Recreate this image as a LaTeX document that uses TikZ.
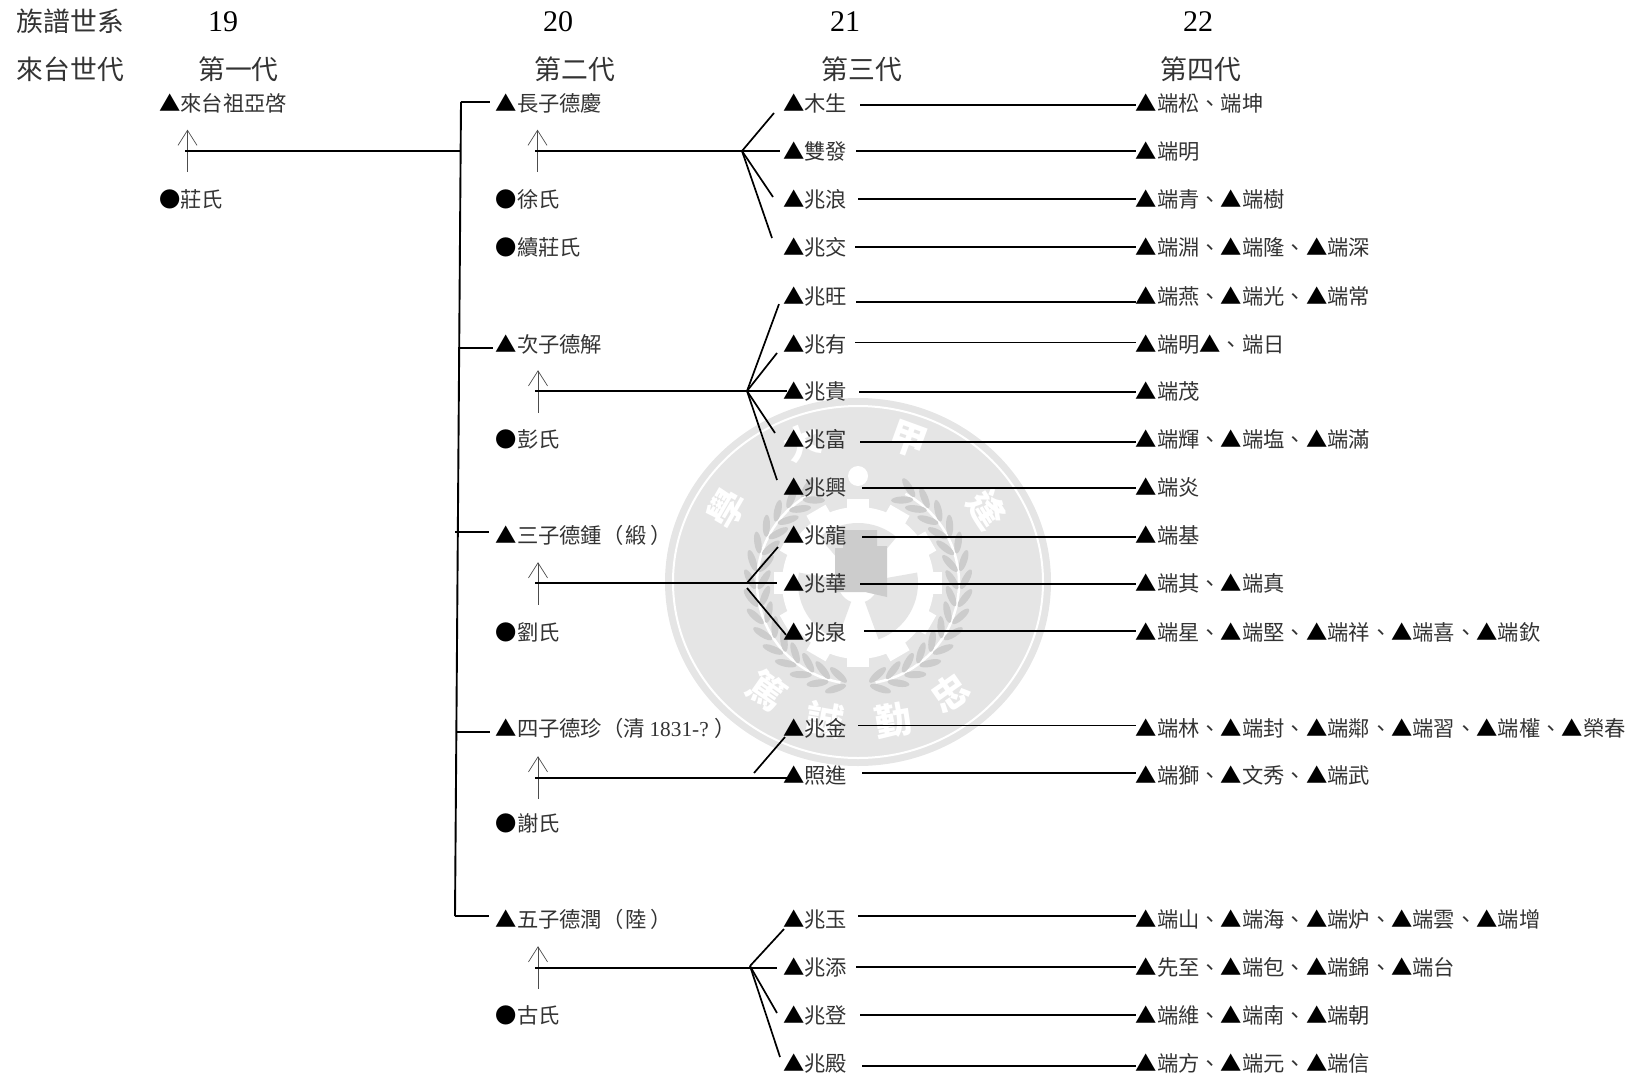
\documentclass[tikz,border=0pt]{standalone}
\usepackage{fontspec}
\setmainfont{Noto Sans CJK TC}
\newfontfamily\latinfont{Liberation Serif}
\usetikzlibrary{arrows.meta}
\newcommand{\boy}{\textcolor{black}{▲}}
\newcommand{\girl}{\textcolor{black}{●}}
\tikzset{
		person/.style={anchor=west,inner sep=0pt,text height=19pt,text depth=2pt,font=\fontsize{21.3}{24}\selectfont,text=black!80},
		title/.style={inner sep=0pt,font=\fontsize{26.8}{30}\selectfont,text=black!80},
		number/.style={inner sep=0pt,font=\fontsize{30}{32}\latinfont\selectfont},
		sealtext/.style={inner sep=0pt,text=white,font=\fontsize{37}{39}\selectfont\bfseries},
		sealleaf/.style={fill=black!20},
		link/.style={line width=1.9pt},
		branch/.style={line width=1.7pt},
		marry/.style={line width=0.7pt,draw=black!70,-{Straight Barb[length=15pt,width=19pt,line width=0.7pt]}}
	}

\begin{document}
\begin{tikzpicture}[x=1pt,y=-1pt]
				\useasboundingbox (0,0) rectangle (1632,1076);

				\fill[black!10] (858,582) ellipse [x radius=193pt,y radius=184pt];
				\draw[white,line width=2pt] (858,582) ellipse [x radius=185pt,y radius=176pt];
				\node[sealtext,rotate=60]  (s1) at (727,508) {學};
				\node[sealtext,rotate=22]  (s2) at (802,442) {大};
				\node[sealtext,rotate=-20] (s3) at (908,440) {甲};
				\node[sealtext,rotate=-58] (s4) at (987,510) {逢};
				\node[sealtext,rotate=-35] (s5) at (767,690) {篤};
				\node[sealtext,rotate=-10] (s6) at (825,720) {誠};
				\node[sealtext,rotate=10]  (s7) at (893,720) {勤};
				\node[sealtext,rotate=35]  (s8) at (950,693) {忠};

				\begin{scope}[shift={(858,583)}]
					\draw[white,line width=2.5pt] (-80:101pt) arc [start angle=-80,end angle=62,radius=101pt];
					\draw[white,line width=2.5pt] (260:101pt) arc [start angle=260,end angle=118,radius=101pt];
					\foreach \a in {-78,-68,...,62} {
						\begin{scope}[rotate=\a]
							\fill[sealleaf,rotate around={60:(108,0)}] (108,0) ellipse [x radius=11pt,y radius=3.6pt];
							\fill[sealleaf,rotate around={120:(94,0)}] (94,0) ellipse [x radius=11pt,y radius=3.6pt];
						\end{scope}
					}
					\foreach \a in {258,248,...,118} {
						\begin{scope}[rotate=\a]
							\fill[sealleaf,rotate around={120:(108,0)}] (108,0) ellipse [x radius=11pt,y radius=3.6pt];
							\fill[sealleaf,rotate around={60:(94,0)}] (94,0) ellipse [x radius=11pt,y radius=3.6pt];
						\end{scope}
					}
					\fill[white] (0,0) circle [radius=76pt];
					\foreach \a in {0,30,...,330} {
						\fill[white,rotate=\a] (70,-11) rectangle (84,11);
					}
					\foreach \a in {50,170,290} {
						\fill[black!10,rotate=\a] (20pt,0pt) arc [start angle=0,end angle=80,radius=20pt] -- (80:60pt) arc [start angle=80,end angle=0,radius=60pt] -- cycle;
					}
					\fill[white] (0,-107) circle [radius=10pt];
				\end{scope}
				\fill[black!20] (835,548) -- (843,548) -- (843,530) -- (877,530) -- (877,546) -- (887,546) -- (887,597) -- (865,592) -- (835,592) -- cycle;

				\node[title,anchor=west] (h1) at (16.5,21) {族譜世系};
				\node[title,anchor=west] (h2) at (16.5,69) {來台世代};
				\node[number] (g19) at (223,21.5) {19};
				\node[number] (g20) at (558,21.5) {20};
				\node[number] (g21) at (845,21.5) {21};
				\node[number] (g22) at (1198,21.5) {22};
				\node[title] (c1) at (238.5,69) {第一代};
				\node[title] (c2) at (575,69) {第二代};
				\node[title] (c3) at (862,69) {第三代};
				\node[title] (c4) at (1201,69) {第四代};

				\node[person] (p0) at (159,103) {\boy 來台祖亞啓};
				\node[person] (w0) at (159,199) {\girl 莊氏};
				\node[person] (p1) at (495.5,103) {\boy 長子德慶};
				\node[person] (w1) at (495.5,199) {\girl 徐氏};
				\node[person] (w1b) at (495.5,247) {\girl 續莊氏};
				\node[person] (p2) at (495.5,343.5) {\boy 次子德解};
				\node[person] (w2) at (495.5,439) {\girl 彭氏};
				\node[person] (p3) at (495.5,535) {\boy 三子德鍾（\kern2pt 緞\kern4pt ）};
				\node[person] (w3) at (495.5,631.8) {\girl 劉氏};
				\node[person] (p4) at (495.5,727.5) {\boy 四子德珍（清 {\latinfont 1831-?}\kern6pt ）};
				\node[person] (w4) at (495.5,823) {\girl 謝氏};
				\node[person] (p5) at (495.5,919) {\boy 五子德潤（\kern2pt 陸\kern4pt ）};
				\node[person] (w5) at (495.5,1015) {\girl 古氏};

				\node[person] (m1) at (783,103) {\boy 木生};
				\node[person] (m2) at (783,151) {\boy 雙發};
				\node[person] (m3) at (783,199) {\boy 兆浪};
				\node[person] (m4) at (783,247) {\boy 兆交};
				\node[person] (m5) at (783,295.6) {\boy 兆旺};
				\node[person] (m6) at (783,343.5) {\boy 兆有};
				\node[person] (m7) at (783,391) {\boy 兆貴};
				\node[person] (m8) at (783,439) {\boy 兆富};
				\node[person] (m9) at (783,487) {\boy 兆興};
				\node[person] (m10) at (783,535) {\boy 兆龍};
				\node[person] (m11) at (783,583) {\boy 兆華};
				\node[person] (m12) at (783,631.8) {\boy 兆泉};
				\node[person] (m13) at (783,727.5) {\boy 兆金};
				\node[person] (m14) at (783,775) {\boy 照進};
				\node[person] (m15) at (783,919) {\boy 兆玉};
				\node[person] (m16) at (783,967) {\boy 兆添};
				\node[person] (m17) at (783,1015) {\boy 兆登};
				\node[person] (m18) at (783,1063) {\boy 兆殿};

				\node[person] (n1) at (1135.5,103) {\boy 端松、端坤};
				\node[person] (n2) at (1135.5,151) {\boy 端明};
				\node[person] (n3) at (1135.5,199) {\boy 端青、\boy 端樹};
				\node[person] (n4) at (1135.5,247) {\boy 端淵、\boy 端隆、\boy 端深};
				\node[person] (n5) at (1135.5,295.6) {\boy 端燕、\boy 端光、\boy 端常};
				\node[person] (n6) at (1135.5,343.5) {\boy 端明\boy 、端日};
				\node[person] (n7) at (1135.5,391) {\boy 端茂};
				\node[person] (n8) at (1135.5,439) {\boy 端輝、\boy 端塩、\boy 端滿};
				\node[person] (n9) at (1135.5,487) {\boy 端炎};
				\node[person] (n10) at (1135.5,535) {\boy 端基};
				\node[person] (n11) at (1135.5,583) {\boy 端其、\boy 端真};
				\node[person] (n12) at (1135.5,631.8) {\boy 端星、\boy 端堅、\boy 端祥、\boy 端喜、\boy 端欽};
				\node[person] (n13) at (1135.5,727.5) {\boy 端林、\boy 端封、\boy 端鄰、\boy 端習、\boy 端權、\boy 榮春};
				\node[person] (n14) at (1135.5,775) {\boy 端獅、\boy 文秀、\boy 端武};
				\node[person] (n15) at (1135.5,919) {\boy 端山、\boy 端海、\boy 端炉、\boy 端雲、\boy 端增};
				\node[person] (n16) at (1135.5,967) {\boy 先至、\boy 端包、\boy 端錦、\boy 端台};
				\node[person] (n17) at (1135.5,1015) {\boy 端維、\boy 端南、\boy 端朝};
				\node[person] (n18) at (1135.5,1063) {\boy 端方、\boy 端元、\boy 端信};

				\draw[marry] ([shift={(28.5,-16.5)}]w0.north west) -- ([shift={(28.5,16)}]p0.south west);
				\draw[marry] ([shift={(42,-16.5)}]w1.north west) -- ([shift={(42,16)}]p1.south west);
				\draw[marry] ([shift={(42.5,-15.5)}]w2.north west) -- ([shift={(42.5,16)}]p2.south west);
				\draw[marry] ([shift={(42.5,-16.3)}]w3.north west) -- ([shift={(42.5,16.5)}]p3.south west);
				\draw[marry] ([shift={(42.5,-13.5)}]w4.north west) -- ([shift={(42.5,18)}]p4.south west);
				\draw[marry] ([shift={(42.5,-15.5)}]w5.north west) -- ([shift={(42.5,16.5)}]p5.south west);

				\coordinate (t1) at (461,102);
				\coordinate (t2) at (459.5,348);
				\coordinate (t3) at (455,532);
				\coordinate (t4) at (457,732);
				\coordinate (t5) at (455,916);
				\coordinate (t0) at (460,151);
				\coordinate (a0) at (185,151);
				\coordinate (a1) at (535,151);
				\coordinate (a2) at (535,391);
				\coordinate (a3) at (535,583);
				\coordinate (a4) at (535,778);
				\coordinate (a5) at (535,968);
				\coordinate (j1) at (742,151);
				\coordinate (j2) at (747,391);
				\coordinate (j3) at (747,583);
				\coordinate (j3b) at (747,588);
				\coordinate (j4) at (754,773);
				\coordinate (j5) at (750,966);

				\draw[link] (t1) -- (t5);
				\path[branch] (t1) edge ([shift={(-6,-1)}]p1.west);
				\path[branch] (t2) edge ([shift={(-3,4.5)}]p2.west);
				\path[branch] (t3) edge ([shift={(-7,-3)}]p3.west);
				\path[branch] (t4) edge ([shift={(-5.5,4.5)}]p4.west);
				\path[branch] (t5) edge ([shift={(-6.5,-3)}]p5.west);
				\path[link] (a0) edge (t0);

				\path[link] (a1) edge (j1);
				\path[branch] (j1) edge ([shift={(-9,10)}]m1.west);
				\path[branch] (j1) edge ([shift={(-3,0)}]m2.west);
				\path[branch] (j1) edge ([shift={(-10,-2)}]m3.west);
				\path[branch] (j1) edge ([shift={(-11,-9)}]m4.west);

				\path[link] (a2) edge (j2);
				\path[link] (j2) edge ([shift={(4,0)}]m7.west);
				\path[branch] (j2) edge ([shift={(-4,8.5)}]m5.west);
				\path[branch] (j2) edge ([shift={(-6,9.5)}]m6.west);
				\path[branch] (j2) edge ([shift={(-8,-6)}]m8.west);
				\path[branch] (j2) edge ([shift={(-6,-7)}]m9.west);

				\path[link] (a3) edge ([shift={(-6,0)}]m11.west);
				\path[branch] (j3) edge ([shift={(-5,12)}]m10.west);
				\path[branch] (j3b) edge ([shift={(3,3)}]m12.west);

				\path[link] (a4) edge ([shift={(5,3)}]m14.west);
				\path[branch] (j4) edge ([shift={(2,9.5)}]m13.west);

				\path[link] (a5) edge ([shift={(-6,1)}]m16.west);
				\path[branch] (j5) edge ([shift={(1,10)}]m15.west);
				\path[branch] (j5) edge ([shift={(-6,-2)}]m17.west);
				\path[branch] (j5) edge ([shift={(-3,-6)}]m18.west);

				\path[link] ([shift={(13,2)}]m1.east) edge ([shift={(0,2)}]n1.west);
				\path[link] ([shift={(9,0)}]m2.east) edge (n2.west);
				\path[link] ([shift={(11,0)}]m3.east) edge (n3.west);
				\path[link] ([shift={(8,0)}]m4.east) edge (n4.west);
				\path[link] ([shift={(9,6)}]m5.east) edge ([shift={(0,6)}]n5.west);
				\path[link] ([shift={(8,-1)}]m6.east) edge ([shift={(0,-1)}]n6.west);
				\path[link] ([shift={(12,1)}]m7.east) edge ([shift={(0,1)}]n7.west);
				\path[link] ([shift={(13,3)}]m8.east) edge ([shift={(0,3)}]n8.west);
				\path[link] ([shift={(15,1)}]m9.east) edge ([shift={(0,1)}]n9.west);
				\path[link] ([shift={(15,2)}]m10.east) edge ([shift={(0,2)}]n10.west);
				\path[link] ([shift={(13,1)}]m11.east) edge ([shift={(0,1)}]n11.west);
				\path[link] ([shift={(17,-1)}]m12.east) edge ([shift={(0,-1)}]n12.west);
				\path[link] ([shift={(11,-2)}]m13.east) edge ([shift={(0,-2)}]n13.west);
				\path[link] ([shift={(15,-2)}]m14.east) edge ([shift={(0,-2)}]n14.west);
				\path[link] ([shift={(11,-3)}]m15.east) edge ([shift={(0,-3)}]n15.west);
				\path[link] ([shift={(9,0)}]m16.east) edge (n16.west);
				\path[link] ([shift={(13,0)}]m17.east) edge (n17.west);
				\path[link] ([shift={(15,3)}]m18.east) edge ([shift={(0,3)}]n18.west);
			\end{tikzpicture}
\end{document}
